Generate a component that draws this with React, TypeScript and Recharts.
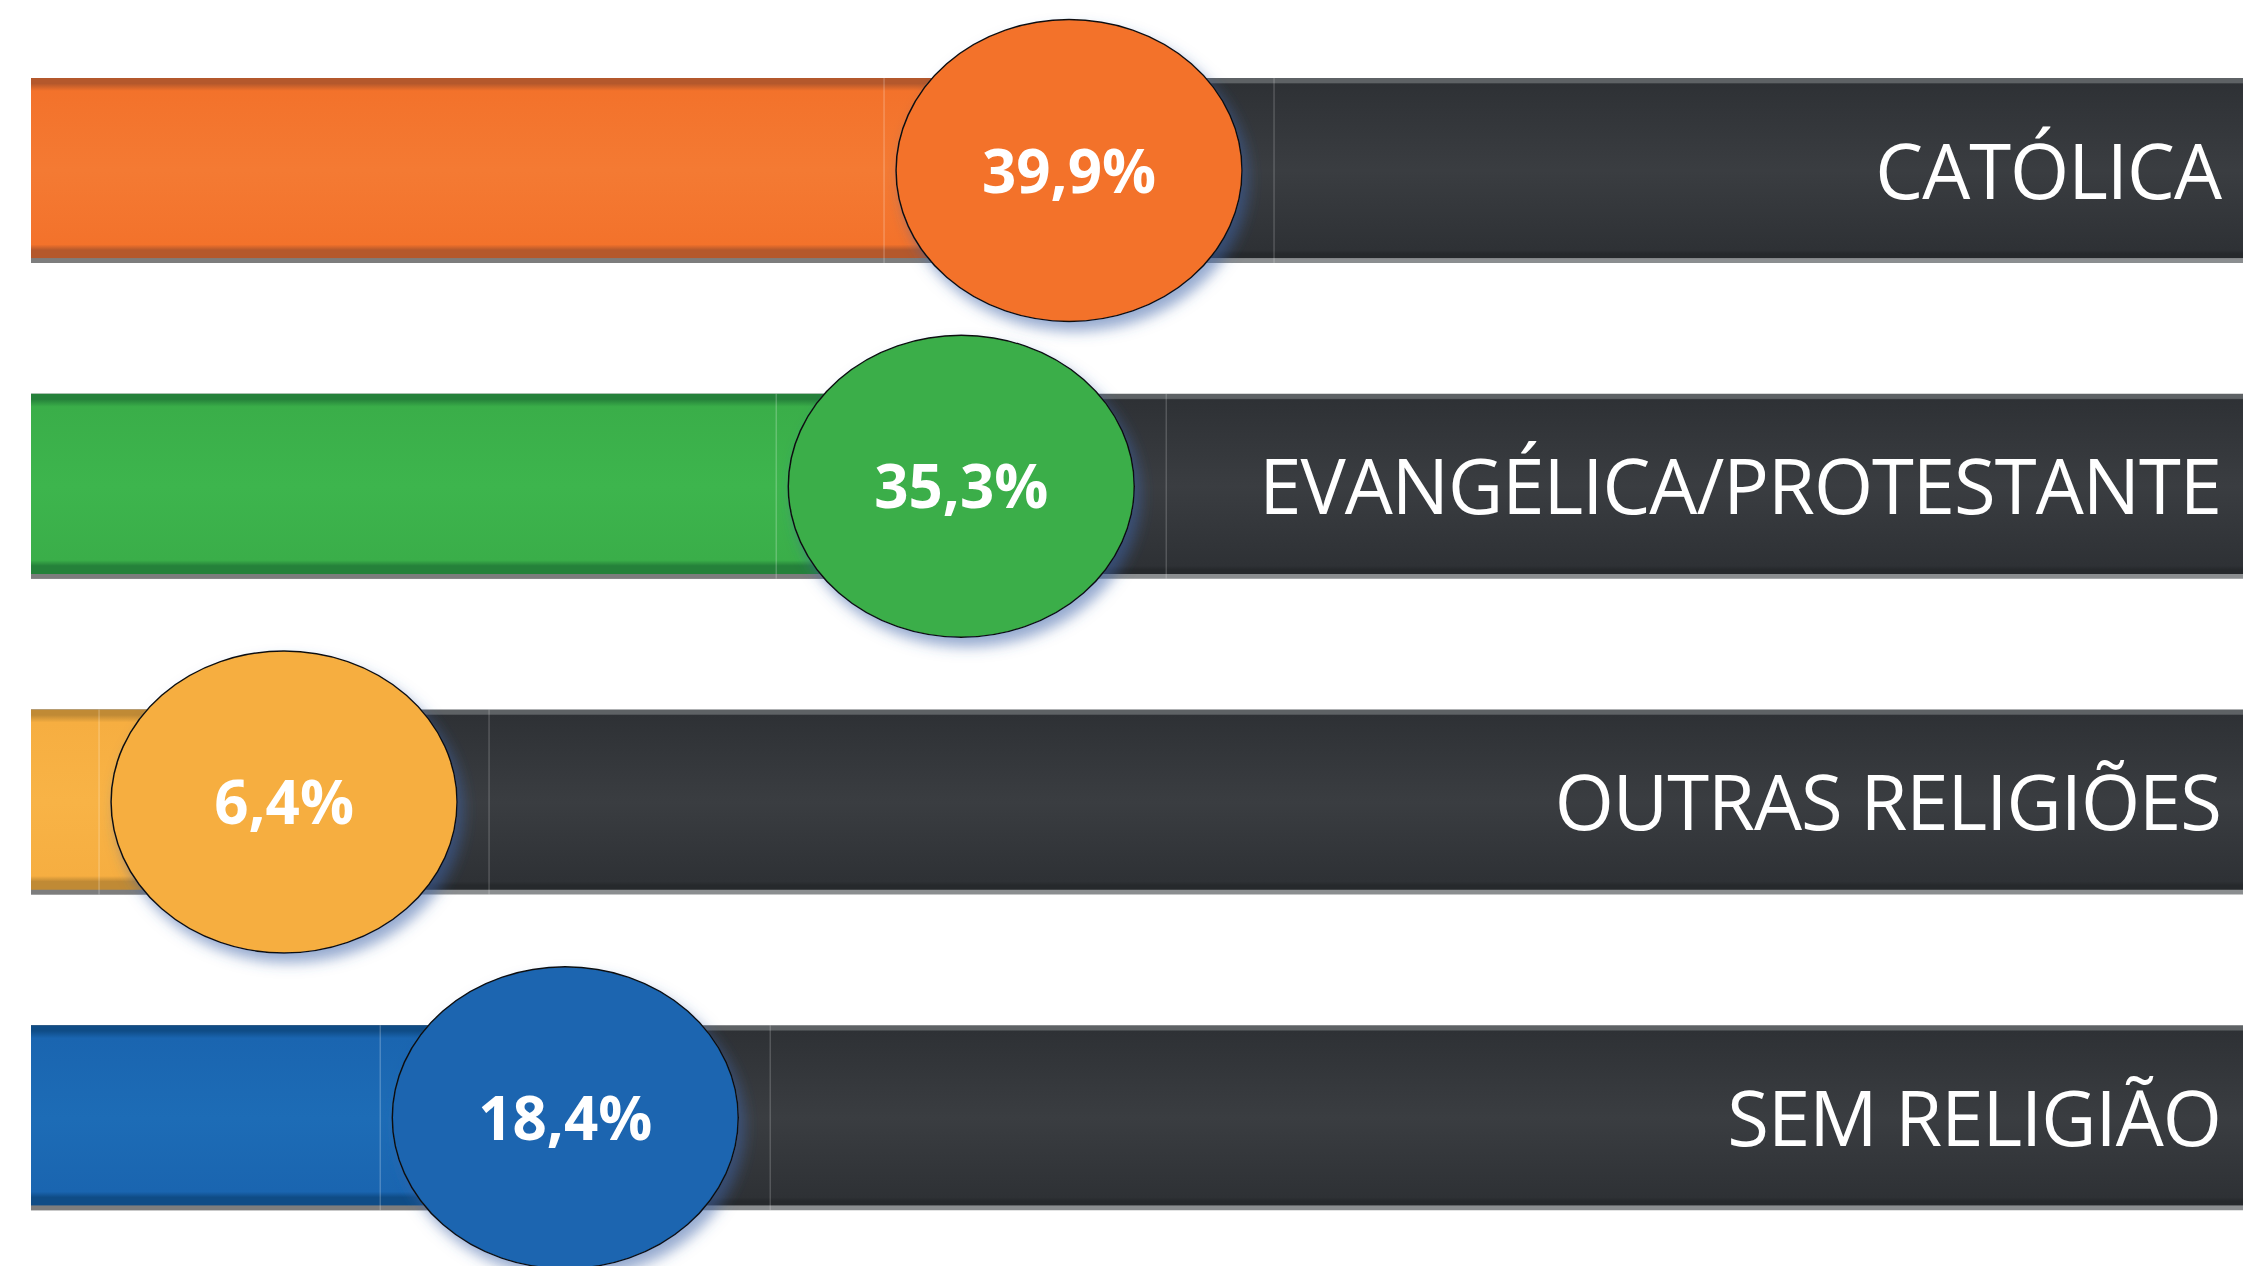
import { BarChart, Bar, XAxis, YAxis, Cell, LabelList } from 'recharts';

const categories = ['CATÓLICA', 'EVANGÉLICA/PROTESTANTE', 'OUTRAS RELIGIÕES', 'SEM RELIGIÃO'];
const shares = [39.9, 35.3, 6.4, 18.4];
const shareLabels = ['39,9%', '35,3%', '6,4%', '18,4%'];
const colors = ['#F3722B', '#3AAE49', '#F6AE41', '#1A65B0'];
const lightColors = ['#F47A33', '#3DB54D', '#F8B346', '#1D6CB6'];
const edgeColors = ['#b4582c', '#25813a', '#c08a35', '#0f4c86'];

// the track starts a little before zero so the badge of the smallest value keeps a stub
const TRACK_START = -4.4;
const TRACK_END = 90;

const CHART_W = 2243;
const CHART_H = 1276;

const data = categories.map((name, i) => ({
  name,
  share: shares[i],
  span: [TRACK_START, shares[i]],
}));

function Badge(props: any) {
  const { x, y, width, height, index } = props;
  const cx = x + width;
  const cy = y + height / 2;
  return (
    <g>
      <line x1={cx - 185} x2={cx - 185} y1={y} y2={y + height} stroke="rgba(255,255,255,0.22)" strokeWidth={1.5} />
      <line x1={cx + 205} x2={cx + 205} y1={y} y2={y + height} stroke="rgba(255,255,255,0.18)" strokeWidth={1.5} />
      <ellipse
        cx={cx}
        cy={cy}
        rx={173}
        ry={151}
        fill={colors[index]}
        stroke="#111"
        strokeWidth={1.5}
        filter="url(#badgeShadow)"
      />
      <text
        x={cx}
        y={cy + 22}
        textAnchor="middle"
        fill="#fff"
        fontFamily="'Open Sans', sans-serif"
        fontWeight={700}
        fontSize={60}
      >
        {shareLabels[index]}
      </text>
    </g>
  );
}

function CategoryLabel(props: any) {
  const { y, height, value } = props;
  return (
    <text
      x={CHART_W - 22}
      y={y + height / 2 + 28}
      textAnchor="end"
      fill="#fff"
      fontFamily="'Open Sans', sans-serif"
      fontSize={76}
      letterSpacing={-1}
    >
      {value}
    </text>
  );
}

export default function App() {
  return (
    <div
      style={{
        position: 'fixed',
        left: 0,
        top: 0,
        width: 2243,
        height: 1266,
        overflow: 'hidden',
        background: '#fff',
      }}
    >
      <BarChart
        width={CHART_W}
        height={CHART_H}
        data={data}
        layout="vertical"
        margin={{ top: 13, right: 0, bottom: 0, left: 31 }}
      >
        <defs>
          <linearGradient id="trackGrad" x1="0" y1="0" x2="0" y2="1">
            <stop offset="0" stopColor="#5e6265" />
            <stop offset="0.025" stopColor="#5e6265" />
            <stop offset="0.032" stopColor="#2e3135" />
            <stop offset="0.5" stopColor="#3a3d41" />
            <stop offset="0.93" stopColor="#2e3135" />
            <stop offset="0.95" stopColor="#26292c" />
            <stop offset="0.972" stopColor="#26292c" />
            <stop offset="0.976" stopColor="#8b8e90" />
            <stop offset="1" stopColor="#8b8e90" />
          </linearGradient>
          {colors.map((c, i) => (
            <linearGradient key={c} id={`barGrad${i}`} x1="0" y1="0" x2="0" y2="1">
              <stop offset="0" stopColor={edgeColors[i]} />
              <stop offset="0.03" stopColor={edgeColors[i]} />
              <stop offset="0.07" stopColor={c} />
              <stop offset="0.5" stopColor={lightColors[i]} />
              <stop offset="0.9" stopColor={c} />
              <stop offset="0.93" stopColor={edgeColors[i]} />
              <stop offset="0.972" stopColor={edgeColors[i]} />
              <stop offset="0.976" stopColor="#7d7d7d" />
              <stop offset="1" stopColor="#7d7d7d" />
            </linearGradient>
          ))}
          <filter id="badgeShadow" x="-20%" y="-20%" width="150%" height="150%">
            <feDropShadow dx="6" dy="9" stdDeviation="7" floodColor="#3d63a8" floodOpacity="0.55" />
          </filter>
        </defs>
        <XAxis type="number" domain={[TRACK_START, TRACK_END]} hide allowDataOverflow />
        <YAxis type="category" dataKey="name" hide />
        <Bar
          dataKey="span"
          barSize={185}
          background={{ fill: 'url(#trackGrad)' }}
          isAnimationActive={false}
        >
          {data.map((d, i) => (
            <Cell key={d.name} fill={`url(#barGrad${i})`} />
          ))}
          <LabelList dataKey="name" content={<CategoryLabel />} />
          <LabelList dataKey="share" content={<Badge />} />
        </Bar>
      </BarChart>
    </div>
  );
}
